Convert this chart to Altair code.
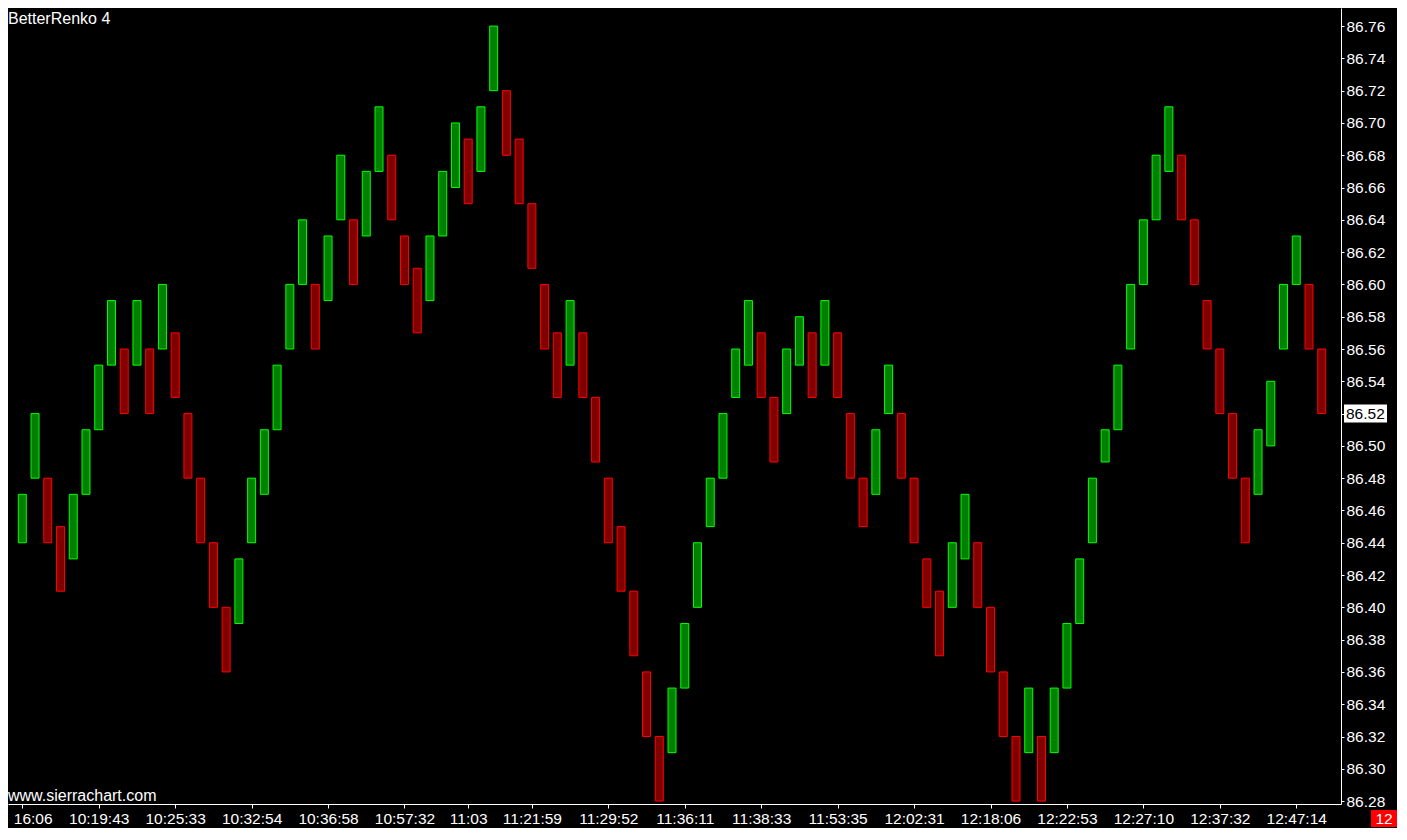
import altair as alt
import pandas as pd

# ---- data (Renko bricks, left to right) ----
bar_low = [
    86.44, 86.48, 86.44, 86.41, 86.43, 86.47, 86.51, 86.55, 86.52, 86.55,
    86.52, 86.56, 86.53, 86.48, 86.44, 86.40, 86.36, 86.39, 86.44, 86.47,
    86.51, 86.56, 86.60, 86.56, 86.59, 86.64, 86.60, 86.63, 86.67, 86.64,
    86.60, 86.57, 86.59, 86.63, 86.66, 86.65, 86.67, 86.72, 86.68, 86.65,
    86.61, 86.56, 86.53, 86.55, 86.53, 86.49, 86.44, 86.41, 86.37, 86.32,
    86.28, 86.31, 86.35, 86.40, 86.45, 86.48, 86.53, 86.55, 86.53, 86.49,
    86.52, 86.55, 86.53, 86.55, 86.53, 86.48, 86.45, 86.47, 86.52, 86.48,
    86.44, 86.40, 86.37, 86.40, 86.43, 86.40, 86.36, 86.32, 86.28, 86.31,
    86.28, 86.31, 86.35, 86.39, 86.44, 86.49, 86.51, 86.56, 86.60, 86.64,
    86.67, 86.64, 86.60, 86.56, 86.52, 86.48, 86.44, 86.47, 86.50, 86.56,
    86.60, 86.56, 86.52,
]
bar_high = [
    86.47, 86.52, 86.48, 86.45, 86.47, 86.51, 86.55, 86.59, 86.56, 86.59,
    86.56, 86.60, 86.57, 86.52, 86.48, 86.44, 86.40, 86.43, 86.48, 86.51,
    86.55, 86.60, 86.64, 86.60, 86.63, 86.68, 86.64, 86.67, 86.71, 86.68,
    86.63, 86.61, 86.63, 86.67, 86.70, 86.69, 86.71, 86.76, 86.72, 86.69,
    86.65, 86.60, 86.57, 86.59, 86.57, 86.53, 86.48, 86.45, 86.41, 86.36,
    86.32, 86.35, 86.39, 86.44, 86.48, 86.52, 86.56, 86.59, 86.57, 86.53,
    86.56, 86.58, 86.57, 86.59, 86.57, 86.52, 86.48, 86.51, 86.55, 86.52,
    86.48, 86.43, 86.41, 86.44, 86.47, 86.44, 86.40, 86.36, 86.32, 86.35,
    86.32, 86.35, 86.39, 86.43, 86.48, 86.51, 86.55, 86.60, 86.64, 86.68,
    86.71, 86.68, 86.64, 86.59, 86.56, 86.52, 86.48, 86.51, 86.54, 86.60,
    86.63, 86.60, 86.56,
]
bar_dir = [
    "up", "up", "down", "down", "up", "up", "up", "up", "down", "up",
    "down", "up", "down", "down", "down", "down", "down", "up", "up", "up",
    "up", "up", "up", "down", "up", "up", "down", "up", "up", "down",
    "down", "down", "up", "up", "up", "down", "up", "up", "down", "down",
    "down", "down", "down", "up", "down", "down", "down", "down", "down", "down",
    "down", "up", "up", "up", "up", "up", "up", "up", "down", "down",
    "up", "up", "down", "up", "down", "down", "down", "up", "up", "down",
    "down", "down", "down", "up", "up", "down", "down", "down", "down", "up",
    "down", "up", "up", "up", "up", "up", "up", "up", "up", "up",
    "up", "down", "down", "down", "down", "down", "down", "up", "up", "up",
    "up", "down", "down",
]

label_bars = [1, 7, 13, 19, 25, 31, 36, 41, 47, 53, 59, 65, 71, 77, 83, 89, 95, 101]
label_texts = ["16:06", "10:19:43", "10:25:33", "10:32:54", "10:36:58", "10:57:32",
               "11:03", "11:21:59", "11:29:52", "11:36:11", "11:38:33", "11:53:35",
               "12:02:31", "12:18:06", "12:22:53", "12:27:10", "12:37:32", "12:47:14"]

y_ticks = [86.28, 86.30, 86.32, 86.34, 86.36, 86.38, 86.40, 86.42, 86.44, 86.46,
           86.48, 86.50, 86.52, 86.54, 86.56, 86.58, 86.60, 86.62, 86.64, 86.66,
           86.68, 86.70, 86.72, 86.74, 86.76]

chart_title = "BetterRenko 4"
watermark = "www.sierrachart.com"
counter_text = "12"

# ---- layout ----
W, H = 1333, 796
FONT = "Liberation Sans"
FS = 15.5
FS_TXT = 16

df = pd.DataFrame({
    "bar": list(range(1, len(bar_low) + 1)),
    "low": bar_low,
    "high": bar_high,
    "dir": bar_dir,
})

# last close (down brick closes at its low)
last_close = bar_low[-1] if bar_dir[-1] == "down" else bar_high[-1]
price_df = pd.DataFrame({"price": [last_close], "label": [f"{last_close:.2f}"]})

label_expr = "''"
for b, t in reversed(list(zip(label_bars, label_texts))):
    label_expr = f"datum.value == {b} ? '{t}' : ({label_expr})"

first_test = f"datum.value == {label_bars[0]}"

x_scale = alt.Scale(domain=[0.27, 104.12], nice=False, zero=False)
y_scale = alt.Scale(domain=[86.2782, 86.7712], nice=False, zero=False)

x_axis = alt.Axis(
    values=label_bars, labelExpr=label_expr, title=None, grid=False,
    domainColor="white", tickColor="white", tickSize=4, labelColor="white",
    labelFont=FONT, labelFontSize=FS, labelPadding=3, labelOverlap=False,
    labelFlush=False,
    labelAlign={"condition": {"test": first_test, "value": "left"}, "value": "center"},
    labelOffset={"condition": {"test": first_test, "value": -9}, "value": 0},
)


def y_axis():
    return alt.Axis(
        orient="right", values=y_ticks, format=".2f", title=None, grid=False,
        domainColor="white", tickColor="white", tickSize=3, labelColor="white",
        labelFont=FONT, labelFontSize=FS, labelPadding=2, labelOverlap=False,
        labelFlush=False, labelBound=False,
    )


bars = alt.Chart(df).mark_bar(size=8, strokeWidth=1, opacity=1).encode(
    x=alt.X("bar:Q", scale=x_scale, axis=x_axis),
    y=alt.Y("low:Q", scale=y_scale, axis=y_axis()),
    y2="high:Q",
    fill=alt.Fill("dir:N", scale=alt.Scale(domain=["up", "down"], range=["#008000", "#800000"]), legend=None),
    stroke=alt.Stroke("dir:N", scale=alt.Scale(domain=["up", "down"], range=["#00FF00", "#FF0000"]), legend=None),
)

price_box = alt.Chart(price_df).mark_point(
    shape="M-1,-0.42L1,-0.42L1,0.42L-1,0.42Z", filled=True, size=43 * 43,
    color="white", opacity=1, strokeWidth=0,
).encode(
    x=alt.value(W + 24.5),
    y=alt.Y("price:Q", scale=y_scale, axis=y_axis()),
)
price_text = alt.Chart(price_df).mark_text(
    align="left", baseline="middle", font=FONT, fontSize=FS, color="black",
).encode(
    x=alt.value(W + 5),
    y=alt.Y("price:Q", scale=y_scale, axis=y_axis()),
    text="label:N",
)

misc_df = pd.DataFrame({"title": [chart_title], "wm": [watermark], "cnt": [counter_text]})

title_text = alt.Chart(misc_df).mark_text(
    align="left", baseline="alphabetic", font=FONT, fontSize=FS_TXT, color="white",
).encode(x=alt.value(0), y=alt.value(16), text="title:N")

wm_text = alt.Chart(misc_df).mark_text(
    align="left", baseline="alphabetic", font=FONT, fontSize=FS_TXT, color="white",
).encode(x=alt.value(0), y=alt.value(H - 3), text="wm:N")

cnt_box = alt.Chart(misc_df).mark_rect(color="#FF0000", opacity=1).encode(
    x=alt.value(W + 30), x2=alt.value(W + 56),
    y=alt.value(H + 6), y2=alt.value(H + 23),
)
cnt_text = alt.Chart(misc_df).mark_text(
    align="center", baseline="middle", font=FONT, fontSize=FS, color="white",
).encode(x=alt.value(W + 43), y=alt.value(H + 15), text="cnt:N")

chart = alt.layer(
    bars, price_box, price_text, title_text, wm_text, cnt_box, cnt_text
).properties(
    width=W, height=H, padding=0, background="black",
).configure_view(strokeWidth=0)

chart.save("out.html", embed_options={"renderer": "svg", "actions": False})
